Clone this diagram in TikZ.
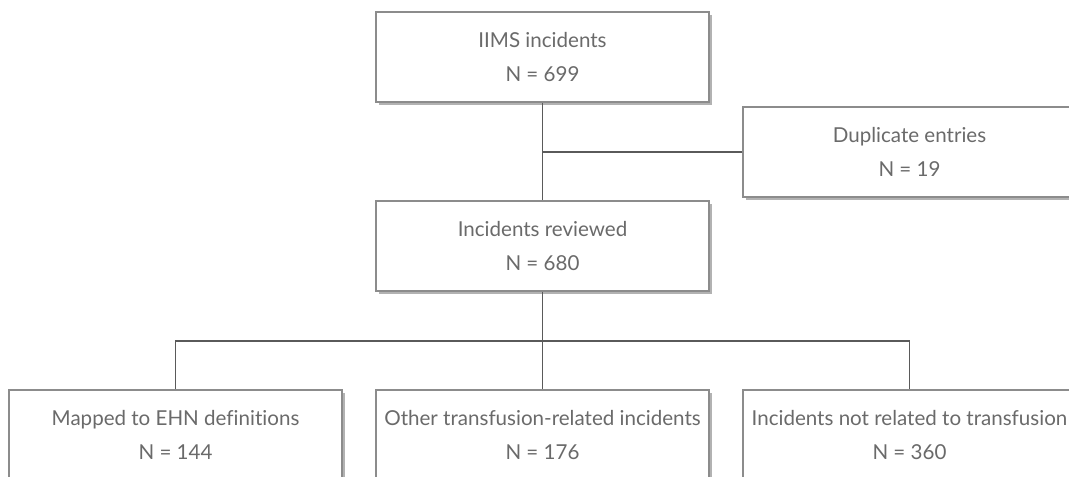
\documentclass[tikz,border=0pt]{standalone}
\usepackage{fontspec}
\setmainfont[Ligatures=NoCommon]{Lato}
\usetikzlibrary{shadows}
\definecolor{bordo}{HTML}{8C8C8C}
\definecolor{linea}{HTML}{5A5A5A}
\definecolor{testo}{HTML}{6A6A6A}
\begin{document}
\begin{tikzpicture}
    % Definizione stili
    \tikzstyle{scatola}=[draw=bordo, line width=0.6pt, fill=white, minimum width=6.66cm, minimum height=1.8cm, align=center, text=testo, font=\fontsize{11.7}{19.6}\selectfont, drop shadow={shadow xshift=0.06cm, shadow yshift=-0.06cm, fill=black!30, opacity=1}]
    \tikzstyle{collegamento}=[draw=linea, line width=0.6pt]

    % Area visibile
    \useasboundingbox (0,0) rectangle (21.38,9.54);
    \clip (0,0) rectangle (21.38,9.54);

    % Riquadri superiori
    \node[scatola] (iims) at (10.85,8.40) {IIMS incidents\\N = 699};
    \node[scatola] (duplicati) at (18.19,6.50) {Duplicate entries\\N = 19};
    \node[scatola] (revisionati) at (10.85,4.62) {Incidents reviewed\\N = 680};

    % Riquadri inferiori
    \node[scatola] (mappati) at (3.51,0.84) {Mapped to EHN definitions\\N = 144};
    \node[scatola] (altri) at (10.85,0.84) {Other transfusion-related incidents\\N = 176};
    \node[scatola] (nonrelativi) at (18.19,0.84) {Incidents not related to transfusion\\N = 360};

    % Punti di diramazione
    \coordinate (ramo) at (10.85,2.72);

    % Collegamenti
    \draw[collegamento] (iims) -- (revisionati);
    \draw[collegamento] (duplicati.west) -- (duplicati.west -| iims);
    \draw[collegamento] (revisionati) -- (altri);
    \draw[collegamento] (mappati) |- (ramo) -| (nonrelativi);
\end{tikzpicture}
\end{document}
